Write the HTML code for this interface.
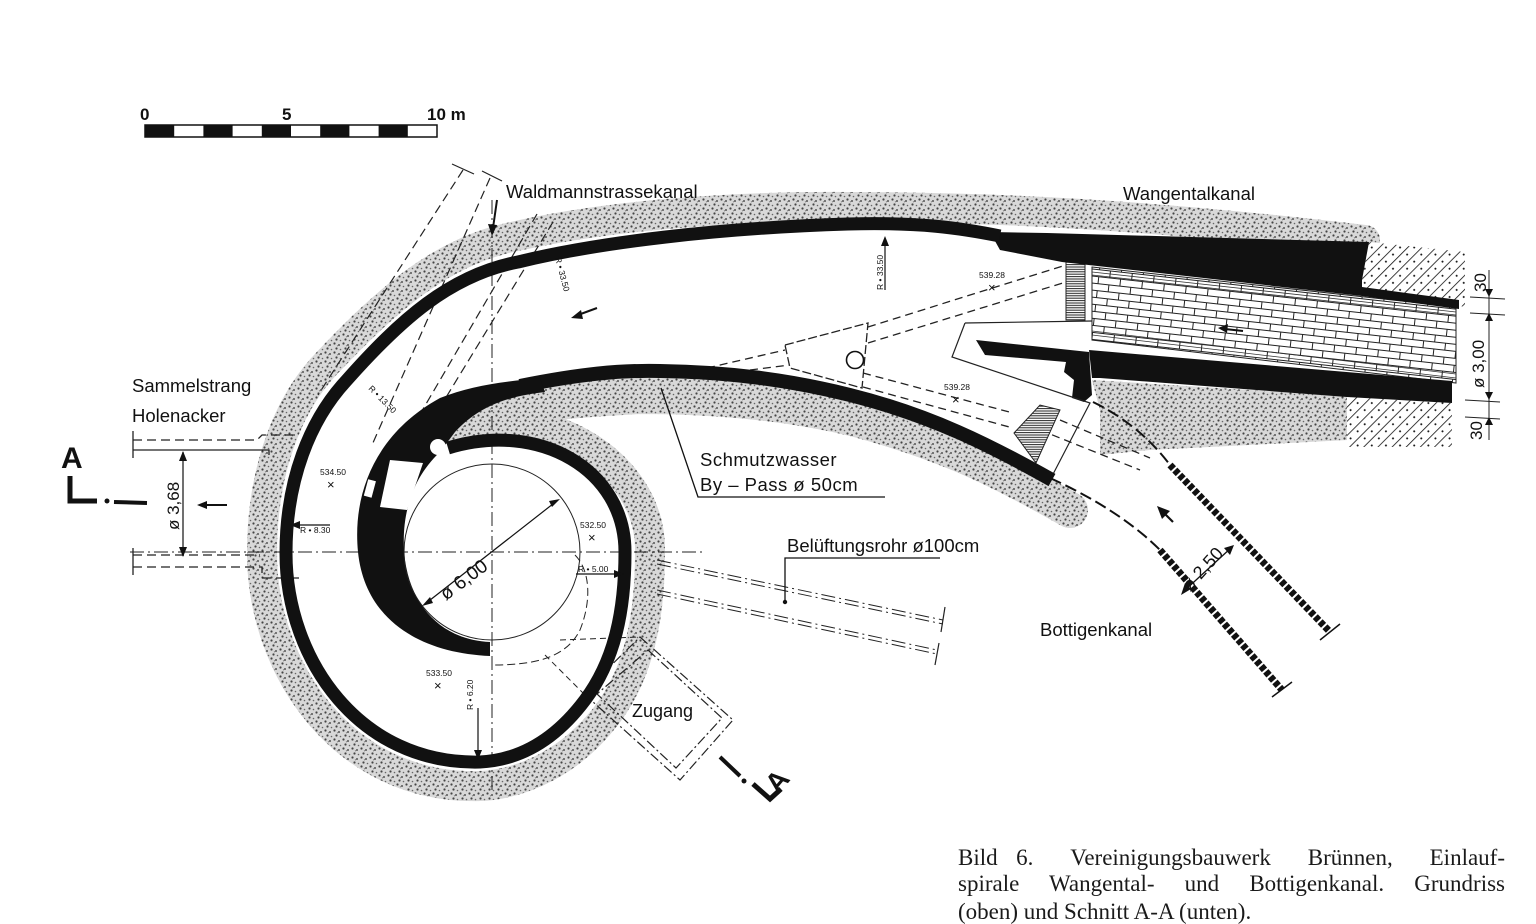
<!DOCTYPE html>
<html><head><meta charset="utf-8"><style>
html,body{margin:0;padding:0;background:#fff;}
body{width:1536px;height:904px;overflow:hidden;position:relative;font-family:"Liberation Sans",sans-serif;}
.cap{position:absolute;left:958px;width:547px;font-family:"Liberation Serif",serif;font-size:23px;color:#1a1a1a;text-align:justify;text-align-last:justify;white-space:nowrap;line-height:24px;}
</style></head><body>
<svg width="1536" height="904" viewBox="0 0 1536 904" xmlns="http://www.w3.org/2000/svg" style="position:absolute;left:0;top:0">
<defs>
<pattern id="st" width="9" height="9" patternUnits="userSpaceOnUse">
<rect width="9" height="9" fill="#d8d8d8"/>
<circle cx="1.5" cy="1.5" r="1.1" fill="#444"/><circle cx="6" cy="3" r="1" fill="#555"/><circle cx="3.5" cy="6.5" r="1.1" fill="#444"/><circle cx="7.5" cy="7.5" r="0.8" fill="#666"/><circle cx="4.5" cy="3.8" r="0.6" fill="#777"/>
</pattern>
<pattern id="dh" width="10" height="10" patternUnits="userSpaceOnUse" patternTransform="rotate(45)">
<rect width="10" height="10" fill="#fff"/><line x1="0" y1="0" x2="0" y2="10" stroke="#111" stroke-width="1.6"/><circle cx="5" cy="5" r="1" fill="#111"/>
</pattern>
<pattern id="hh" width="4" height="2.4" patternUnits="userSpaceOnUse">
<rect width="4" height="2.4" fill="#fff"/><line x1="0" y1="0.6" x2="4" y2="0.6" stroke="#222" stroke-width="1"/>
</pattern>
<pattern id="br" width="22" height="14" patternUnits="userSpaceOnUse" patternTransform="rotate(6.3)">
<rect width="22" height="14" fill="#fff"/>
<path d="M0 0.5H22M0 7.5H22M0.5 0V7M11.5 7V14" stroke="#222" stroke-width="1" fill="none"/>
</pattern>
</defs>

<g font-size="17" font-weight="bold" fill="#111">
<text x="140" y="120">0</text><text x="282" y="120">5</text><text x="427" y="120">10 m</text>
</g>
<rect x="145" y="125" width="292" height="12" fill="#fff" stroke="#111" stroke-width="1.5"/>
<g fill="#111">
<rect x="145" y="125" width="29.2" height="12"/><rect x="203.4" y="125" width="29.2" height="12"/><rect x="261.8" y="125" width="29.2" height="12"/><rect x="320.2" y="125" width="29.2" height="12"/><rect x="378.6" y="125" width="29.2" height="12"/>
</g>

<g fill="none" stroke="url(#st)" stroke-linecap="round">
<path d="M440,428 C540,398 652,460 650,552 C650,615 640,672 606,716 C572,760 525,784 480,786 C345,790 262,670 262,553 C262,470 288,403 328,362 C385,302 440,252 512,237 C600,217 720,206 848,207 C1000,207 1150,215 1365,240" stroke-width="30"/>
<path d="M455,425 C510,405 560,400 640,396 C730,396 800,405 860,420 C950,445 1000,470 1070,510" stroke-width="36"/>
</g>
<polygon points="1092,380 1348,396 1348,440 1150,450 1100,455 1100,410" fill="url(#st)"/>

<g stroke="#222" stroke-width="1" fill="none" stroke-dasharray="14,4,2,4">
<line x1="492" y1="200" x2="492" y2="790"/>
<line x1="130" y1="552" x2="705" y2="552"/>
</g>

<g stroke="#222" stroke-width="1.3" fill="none">
<path d="M133,440 H257 L262,435 H293" stroke-dasharray="9,5"/>
<path d="M133,450 H269 V455"/>
<path d="M133,555 H260" stroke-dasharray="9,5"/>
<path d="M133,567 H262 V578 H300" stroke-dasharray="9,5"/>
<line x1="133" y1="431" x2="133" y2="458"/><line x1="133" y1="548" x2="133" y2="575"/>
<line x1="183" y1="452" x2="183" y2="556"/>
</g>
<polygon points="183,451 179,461 187,461" fill="#111"/><polygon points="183,557 179,547 187,547" fill="#111"/>
<line x1="203" y1="505" x2="227" y2="505" stroke="#111" stroke-width="2"/><polygon points="197,505 207,501 207,509" fill="#111"/>
<text transform="translate(179,530) rotate(-90)" font-size="17" fill="#111">ø 3,68</text>

<text x="61" y="468" font-size="30" font-weight="bold" fill="#111">A</text>
<path d="M70,476 V501 H97" stroke="#111" stroke-width="5" fill="none"/>
<circle cx="107" cy="501" r="2.5" fill="#111"/>
<line x1="114" y1="502" x2="147" y2="503" stroke="#111" stroke-width="4"/>

<g stroke="#222" stroke-width="1.2" fill="none" stroke-dasharray="9,5">
<line x1="463" y1="170" x2="318" y2="395"/>
<line x1="490" y1="178" x2="372" y2="445"/>
<line x1="537" y1="214" x2="405" y2="440"/>
<line x1="553" y1="222" x2="420" y2="440"/>
</g>
<g stroke="#222" stroke-width="1.2"><line x1="452" y1="164" x2="474" y2="174"/><line x1="482" y1="171" x2="502" y2="181"/></g>
<line x1="497" y1="200" x2="493" y2="228" stroke="#111" stroke-width="2"/><polygon points="492,236 488,224 497,225" fill="#111"/>
<line x1="578" y1="315" x2="597" y2="308" stroke="#111" stroke-width="2"/><polygon points="571,318 581,310 583,319" fill="#111"/>

<g stroke="#222" stroke-width="1.3" fill="none" stroke-dasharray="8,5">
<line x1="707" y1="368" x2="785" y2="350"/><line x1="750" y1="370" x2="790" y2="365"/>
<line x1="868" y1="327" x2="1066" y2="265"/><line x1="868" y1="343" x2="1066" y2="282"/>
<line x1="863" y1="373" x2="1013" y2="413"/><line x1="863" y1="387" x2="1013" y2="428"/>
<line x1="1060" y1="420" x2="1150" y2="458"/><line x1="1040" y1="430" x2="1140" y2="470"/>
</g>
<polygon points="785,345 868,323 862,388 790,368" fill="#fff" stroke="#222" stroke-width="1.3" stroke-dasharray="9,3"/>
<circle cx="855" cy="360" r="8.5" fill="#fff" stroke="#111" stroke-width="1.6"/>

<g stroke="#222" stroke-width="1" fill="none" stroke-dasharray="14,4,2,4">
<line x1="657" y1="560" x2="943" y2="620"/><line x1="657" y1="564" x2="943" y2="624"/>
<line x1="657" y1="590" x2="937" y2="650"/><line x1="657" y1="594" x2="937" y2="654"/>
</g>
<g stroke="#222" stroke-width="1.2"><line x1="945" y1="607" x2="941" y2="632"/><line x1="939" y1="643" x2="935" y2="665"/></g>

<g stroke="#222" stroke-width="1.2" fill="none" stroke-dasharray="10,3,2,3">
<polygon points="640,637 733,720 680,780 583,693"/>
<polygon points="648,650 722,718 676,768 597,694"/>
</g>
<g stroke="#222" stroke-width="1" fill="none">
<line x1="560" y1="640" x2="640" y2="637" stroke-dasharray="6,4"/>
<line x1="545" y1="655" x2="583" y2="693" stroke-dasharray="6,4"/>
</g>
<text x="632" y="717" font-size="18" fill="#111">Zugang</text>
<line x1="720" y1="757" x2="740" y2="776" stroke="#111" stroke-width="4"/>
<circle cx="744" cy="781" r="2.5" fill="#111"/>
<path d="M753,784 L770,799 L781,789" stroke="#111" stroke-width="5" fill="none"/>
<text transform="translate(778,795) rotate(-50)" font-size="28" font-weight="bold" fill="#111">A</text>

<g fill="none" stroke="#111">
<path d="M1050,478 Q1120,510 1160,550" stroke-width="2" stroke-dasharray="12,5"/>
<path d="M1093,402 Q1140,425 1170,465" stroke-width="2" stroke-dasharray="12,5"/>
<path d="M1160,550 L1282,690" stroke-width="7" stroke-dasharray="5,2"/>
<path d="M1170,465 L1330,632" stroke-width="7" stroke-dasharray="5,2"/>
<line x1="1272" y1="697" x2="1292" y2="682" stroke-width="1.5"/>
<line x1="1320" y1="640" x2="1340" y2="624" stroke-width="1.5"/>
<line x1="1183" y1="592" x2="1232" y2="547" stroke-width="1.3"/>
<line x1="1173" y1="522" x2="1163" y2="512" stroke-width="2.2"/>
</g>
<polygon points="1157,506 1170,511 1162,519" fill="#111"/>
<polygon points="1181,595 1185,583 1191,589" fill="#111"/><polygon points="1234,545 1224,548 1230,555" fill="#111"/>
<text transform="translate(1190,592) rotate(-48)" font-size="18" fill="#111">ø 2,50</text>

<polygon points="1092,267 1456,307 1456,383 1092,340" fill="url(#br)" stroke="#222" stroke-width="1"/>
<g stroke="#333" stroke-width="0.8"><line x1="1092" y1="272" x2="1456" y2="312"/><line x1="1092" y1="275" x2="1456" y2="315"/><line x1="1092" y1="335" x2="1456" y2="378"/><line x1="1092" y1="331" x2="1456" y2="374"/></g>
<line x1="1225" y1="329" x2="1243" y2="331" stroke="#111" stroke-width="2"/><polygon points="1218,328 1228,324 1227,333" fill="#111"/>
<polygon points="1369,242 1465,252 1465,307 1362,287 1362,280" fill="url(#dh)"/>
<polygon points="1347,397 1452,403 1452,447 1347,447" fill="url(#dh)"/>
<rect x="1066" y="260" width="19" height="60" fill="url(#hh)" stroke="#222"/>
<polygon points="1014,433 1040,405 1060,410 1036,463" fill="url(#hh)" stroke="#222"/>
<g fill="#111">
<polygon points="990,232 1047,233 1369,242 1362,280 1362,287 1459,300 1459,309 1362,296 1062,262 1000,250"/>
<polygon points="1089,350 1452,381 1452,403 1347,397 1100,378 1092,378"/>
<polygon points="976,340 1089,352 1092,395 1084,402 1072,398 1074,380 1064,372 1066,362 985,355"/>
</g>
<g stroke="#222" stroke-width="1.2" fill="none">
<polyline points="965,323 1092,321"/>
<polyline points="965,323 952,357 1090,403 1050,480"/>
</g>
<g stroke="#222" stroke-width="1"><line x1="1489" y1="270" x2="1489" y2="440"/><line x1="1470" y1="297" x2="1505" y2="299"/><line x1="1470" y1="313" x2="1505" y2="315"/><line x1="1465" y1="400" x2="1500" y2="402"/><line x1="1465" y1="417" x2="1500" y2="419"/></g>
<g fill="#111"><polygon points="1489,297 1485,289 1493,289"/><polygon points="1489,313 1485,321 1493,321"/><polygon points="1489,400 1485,392 1493,392"/><polygon points="1489,417 1485,425 1493,425"/></g>
<g font-size="17" fill="#111">
<text transform="translate(1486,292) rotate(-90)">30</text>
<text transform="translate(1484,388) rotate(-90)">ø 3,00</text>
<text transform="translate(1482,440) rotate(-90)">30</text>
</g>

<path d="M448,448 C540,420 625,470 625,552 C625,610 615,660 585,700 C555,740 520,760 480,762 C360,765 286,660 286,553 C286,480 310,420 346,381 C400,320 450,275 518,262 C600,242 720,228 848,224 C920,222 960,228 1000,236" fill="none" stroke="#111" stroke-width="13"/>
<path d="M520,386 C580,374 620,370 660,371 C730,372 790,380 850,395 C930,415 990,445 1052,480" fill="none" stroke="#111" stroke-width="14"/>
<path d="M490,656 C420,653 365,620 358,552 C352,490 378,432 440,398 C470,386 500,382 540,378 L545,392 C510,396 480,405 455,432 L440,452 C410,480 400,520 405,560 C412,610 445,640 490,642 Z" fill="#111"/>
<circle cx="438" cy="447" r="8" fill="#fff"/>
<polygon points="390,460 423,463 407,510 380,507" fill="#fff"/>
<rect x="366" y="480" width="8" height="17" fill="#fff" transform="rotate(15 370 488)"/>
<circle cx="492" cy="552" r="88" fill="none" stroke="#222" stroke-width="1"/>
<path d="M575,555 C590,570 592,600 580,630 C565,660 530,665 492,665" fill="none" stroke="#222" stroke-width="1" stroke-dasharray="8,4"/>
<line x1="425" y1="604" x2="558" y2="500" stroke="#111" stroke-width="1.2"/>
<polygon points="422,606 430,597 433,603" fill="#111"/><polygon points="560,499 552,507 549,501" fill="#111"/>
<text transform="translate(446,601) rotate(-37)" font-size="19" fill="#111">ø 6,00</text>

<g stroke="#111" stroke-width="1.3" fill="none">
<polyline points="661,388 698,497 885,497"/>
<polyline points="785,602 785,558 940,558"/>
</g>
<circle cx="785" cy="602" r="2.2" fill="#111"/>

<g font-size="18.5" fill="#111">
<text x="506" y="198">Waldmannstrassekanal</text>
<text x="1123" y="200">Wangentalkanal</text>
<text x="132" y="392">Sammelstrang</text>
<text x="132" y="422">Holenacker</text>
<text x="700" y="466" letter-spacing="0.5">Schmutzwasser</text>
<text x="700" y="491" letter-spacing="0.5">By – Pass  ø 50cm</text>
<text x="787" y="552">Belüftungsrohr ø100cm</text>
<text x="1040" y="636">Bottigenkanal</text>
</g>
<g font-size="8.5" fill="#111">
<text x="320" y="475">534.50</text><text x="580" y="528">532.50</text><text x="426" y="676">533.50</text>
<text x="979" y="278">539.28</text><text x="944" y="390">539.28</text>
<text x="300" y="533">R • 8.30</text><text x="578" y="572">R • 5.00</text>
<text transform="translate(883,290) rotate(-90)">R • 33.50</text>
<text transform="translate(555,258) rotate(75)">R • 33.50</text>
<text transform="translate(368,389) rotate(45)">R • 13.50</text>
<text transform="translate(473,710) rotate(-90)">R • 6.20</text>
</g>
<g font-size="13" fill="#111">
<text x="327" y="489">×</text><text x="588" y="542">×</text><text x="434" y="690">×</text><text x="988" y="292">×</text><text x="952" y="404">×</text>
</g>
<g stroke="#111" stroke-width="1.2"><line x1="298" y1="525" x2="330" y2="525"/><line x1="576" y1="574" x2="622" y2="574"/><line x1="885" y1="240" x2="885" y2="290"/><line x1="478" y1="708" x2="478" y2="758"/></g>
<polygon points="290,525 300,521 300,529" fill="#111"/><polygon points="624,574 614,570 614,578" fill="#111"/>
<polygon points="885,236 881,246 889,246" fill="#111"/><polygon points="478,760 474,750 482,750" fill="#111"/>
</svg>
<div class="cap" style="top:846px">Bild 6. &nbsp;Vereinigungsbauwerk &nbsp;Brünnen, &nbsp;Einlauf-</div>
<div class="cap" style="top:872px">spirale Wangental- und Bottigenkanal. Grundriss</div>
<div class="cap" style="top:900px;text-align-last:left">(oben) und Schnitt A-A (unten).</div>
</body></html>
